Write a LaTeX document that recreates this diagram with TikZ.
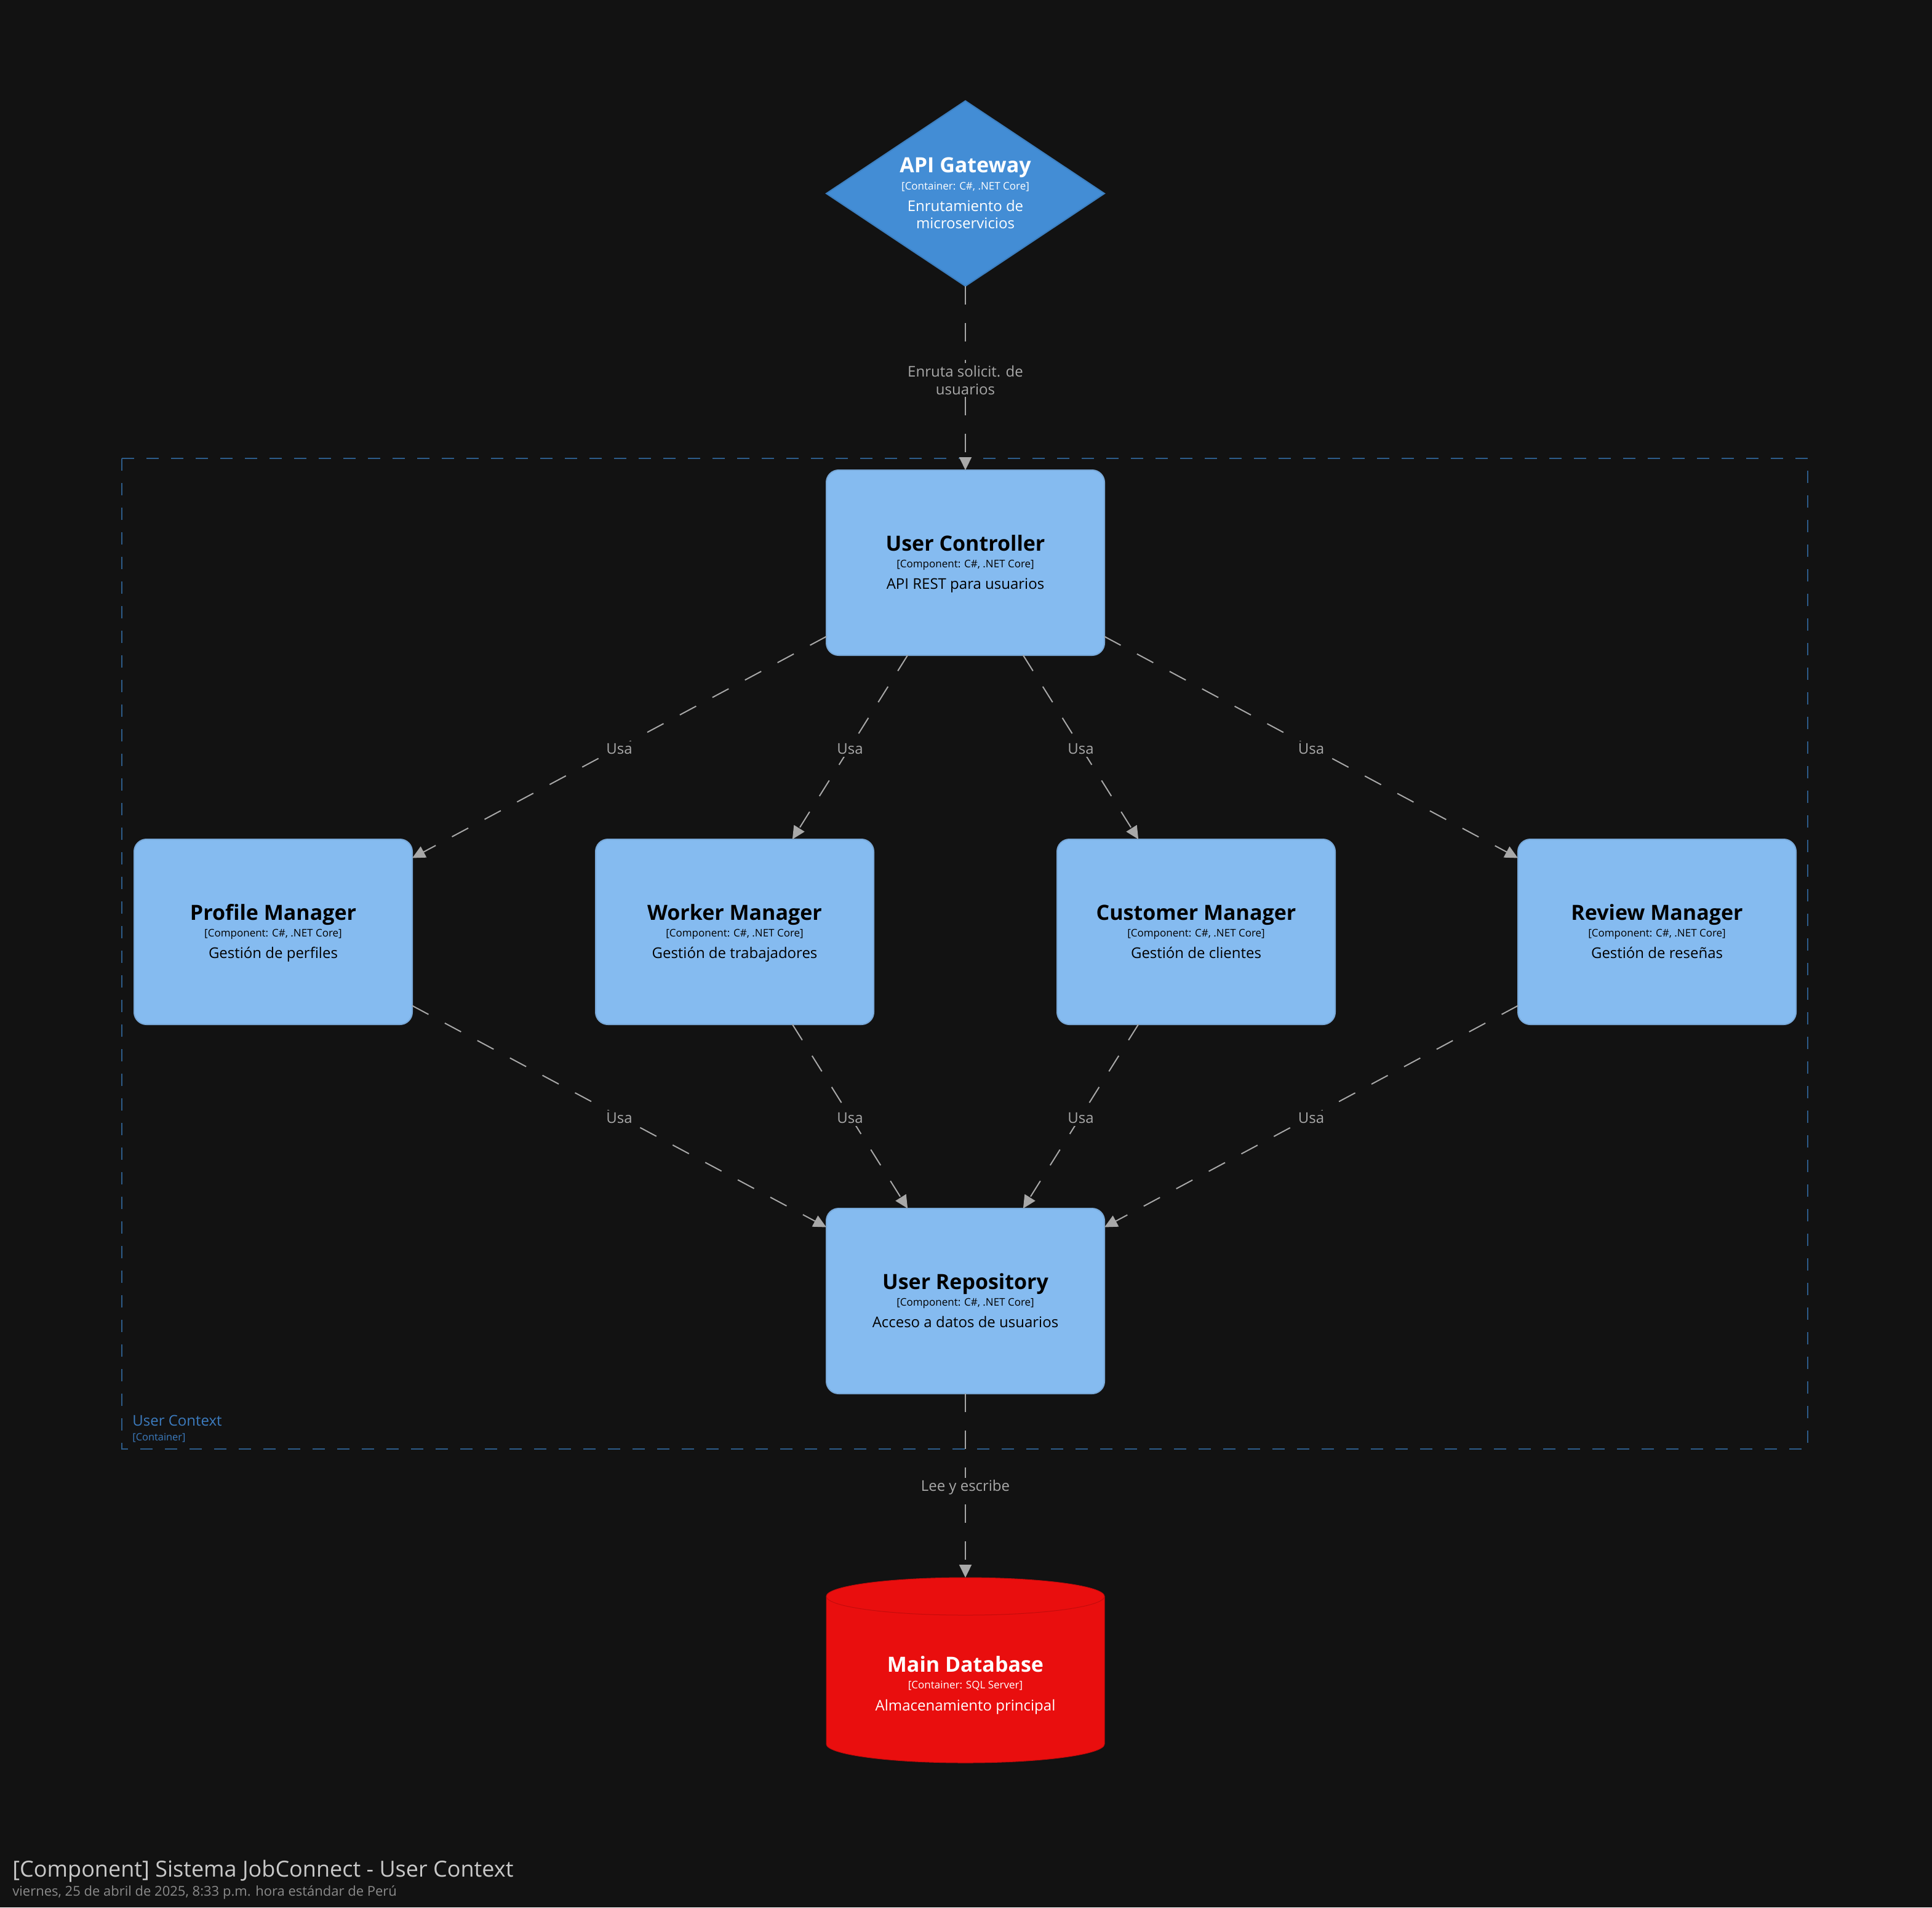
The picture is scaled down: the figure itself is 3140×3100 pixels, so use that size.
\documentclass[tikz,border=0pt]{standalone}
\usepackage{fontspec}
\setmainfont{Open Sans}
\usetikzlibrary{arrows.meta,shapes.geometric,calc,backgrounds}

\newdimen\px \px=0.5pt
\definecolor{bg}{HTML}{121212}
\definecolor{compfill}{HTML}{85BBF0}
\definecolor{compedge}{HTML}{78A8D8}
\definecolor{gwfill}{HTML}{438DD5}
\definecolor{gwedge}{HTML}{3C7FC0}
\definecolor{dbfill}{HTML}{E90E0E}
\definecolor{dbedge}{HTML}{C40C0C}
\definecolor{relc}{HTML}{A8A8A8}
\definecolor{bndline}{HTML}{2D5C8A}
\definecolor{bndtext}{HTML}{3C7BBE}
\definecolor{titlec}{HTML}{C8C8C8}
\definecolor{subc}{HTML}{8A8A8A}

% element text: rows with fixed baseline distances (in px)
\newcommand\crow[2]{\vrule height #1\px depth 0pt width 0pt\smash{#2}\cr}
\newcommand\cpad[1]{\vrule height 0pt depth #1\px width 0pt\cr}
\newcommand\cstack[1]{\vbox{\offinterlineskip\halign{\hfil##\hfil\cr#1}}}
\newcommand\cfName{\fontsize{17pt}{20pt}\selectfont\bfseries}
\newcommand\cfTech{\fontsize{8.5pt}{10pt}\selectfont}
\newcommand\cfDesc{\fontsize{12pt}{14pt}\selectfont}
\newcommand\compText[3]{\cstack{\crow{30}{\cfName #1}\crow{27}{\cfTech #2}\crow{35}{\cfDesc #3}\cpad{6}}}

\tikzset{
  comp/.style={rectangle, rounded corners=10pt, fill=compfill, draw=compedge,
    line width=1pt, minimum width=226pt, minimum height=150.5pt,
    inner sep=0pt, outer sep=0pt, text=black},
  gateway/.style={diamond, aspect=1.5, fill=gwfill, draw=gwedge, line width=1pt,
    minimum width=226pt, minimum height=150.5pt, inner sep=0pt, outer sep=0pt,
    text=white},
  dbnode/.style={rectangle, minimum width=226pt, minimum height=150.5pt,
    inner sep=0pt, outer sep=0pt, text=white},
  rel/.style={draw=relc, line width=1pt, dash pattern=on 15pt off 15pt,
    -{Triangle[width=10pt,length=10.5pt,fill=relc]}},
  lbl/.style={fill=bg, text=relc, inner sep=2pt, align=center, yshift=-1.5pt,
    font=\fontsize{12pt}{14.5pt}\selectfont},
}

\begin{document}
\begin{tikzpicture}[x=0.5pt, y=-0.5pt]
  % container boundary
  \draw[bndline, line width=1pt, dash pattern=on 10pt off 10pt] (198,745) rectangle (2938,2355);
  \node[anchor=base west, inner sep=0pt, text=bndtext, font=\fontsize{12pt}{14pt}\selectfont] (ctxname) at (215,2317) {User Context};
  \node[anchor=base west, inner sep=0pt, text=bndtext, font=\fontsize{8.2pt}{10pt}\selectfont] (ctxtype) at (215,2341) {[Container]};

  % elements
  \node[gateway] (gw) at (1569,314.5) {\cstack{\crow{30}{\cfName API Gateway}\crow{28}{\cfTech [Container: C\#, .NET Core]}\crow{35}{\cfDesc Enrutamiento de}\crow{28}{\cfDesc microservicios}\cpad{8}}};
  \node[comp] (uc) at (1569,914.5) {\compText{User Controller}{[Component: C\#, .NET Core]}{API REST para usuarios}};
  \node[comp] (pm) at (444,1514.5) {\compText{Profile Manager}{[Component: C\#, .NET Core]}{Gestión de perfiles}};
  \node[comp] (wm) at (1194,1514.5) {\compText{Worker Manager}{[Component: C\#, .NET Core]}{Gestión de trabajadores}};
  \node[comp] (cm) at (1944,1514.5) {\compText{Customer Manager}{[Component: C\#, .NET Core]}{Gestión de clientes}};
  \node[comp] (rm) at (2693,1514.5) {\compText{Review Manager}{[Component: C\#, .NET Core]}{Gestión de reseñas}};
  \node[comp] (ur) at (1569,2114.5) {\compText{User Repository}{[Component: C\#, .NET Core]}{Acceso a datos de usuarios}};
  \node[dbnode] (db) at (1569,2714.5) {\cstack{\crow{70}{\cfName Main Database}\crow{27}{\cfTech [Container: SQL Server]}\crow{36}{\cfDesc Almacenamiento principal}\cpad{2}}};

  % page background and database cylinder, beneath everything else
  \begin{scope}[on background layer]
    \fill[bg] (0,0) rectangle (3140,3100);
    \filldraw[fill=dbfill, draw=dbedge, line width=0.5pt]
      ($(db.north west)+(0,30.5)$) -- ($(db.south west)+(0,-30.5)$)
      arc[start angle=180, end angle=0, x radius=226, y radius=30.5]
      -- ($(db.north east)+(0,30.5)$)
      arc[start angle=360, end angle=180, x radius=226, y radius=30.5] -- cycle;
    \draw[dbedge, line width=0.5pt] ($(db.north west)+(0,30.5)$)
      arc[start angle=180, end angle=0, x radius=226, y radius=30.5];
  \end{scope}

  % relations
  \draw[rel] (gw) -- node[lbl] {Enruta solicit. de\\usuarios} (uc);
  \draw[rel] (uc) -- node[lbl] {Usa} (pm);
  \draw[rel] (uc) -- node[lbl] {Usa} (wm);
  \draw[rel] (uc) -- node[lbl] {Usa} (cm);
  \draw[rel] (uc) -- node[lbl] {Usa} (rm);
  \draw[rel] (pm) -- node[lbl] {Usa} (ur);
  \draw[rel] (wm) -- node[lbl] {Usa} (ur);
  \draw[rel] (cm) -- node[lbl] {Usa} (ur);
  \draw[rel] (rm) -- node[lbl] {Usa} (ur);
  \draw[rel] (ur) -- node[lbl] {Lee y escribe} (db);

  % title
  \node[anchor=base west, inner sep=0pt, text=titlec, font=\fontsize{18pt}{22pt}\selectfont] (title) at (20,3050) {[Component] Sistema JobConnect - User Context};
  \node[anchor=base west, inner sep=0pt, text=subc, font=\fontsize{11pt}{13pt}\selectfont] (subtitle) at (20,3081) {viernes, 25 de abril de 2025, 8:33 p.m. hora estándar de Perú};
\end{tikzpicture}
\end{document}
